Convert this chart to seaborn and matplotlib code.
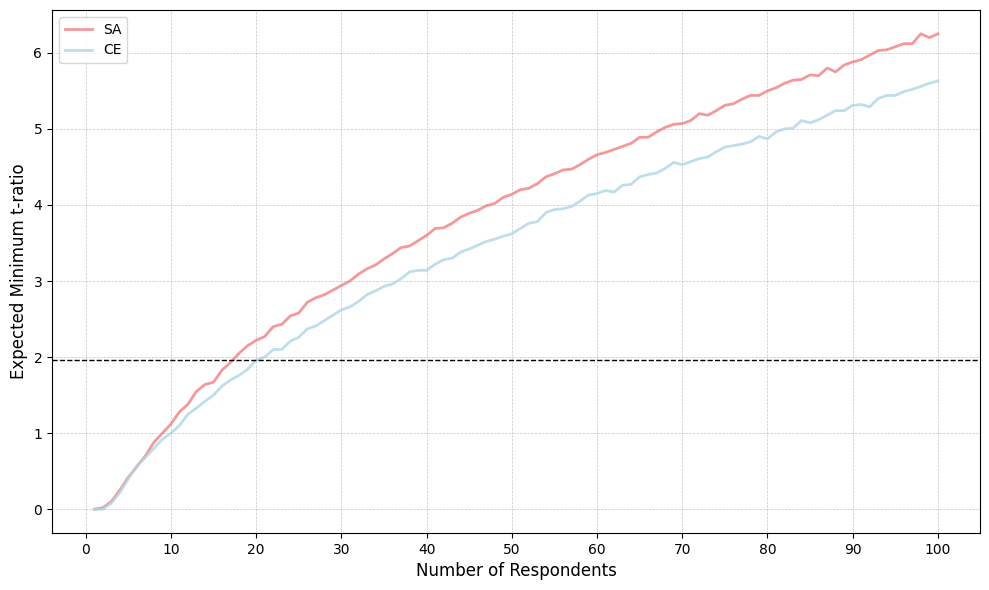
import numpy as np
import pandas as pd
import matplotlib
matplotlib.use("Agg")
import matplotlib.pyplot as plt
import seaborn as sns

respondents = list(range(1, 101))
sa_values = [0.0, 0.02, 0.1, 0.25, 0.42, 0.56, 0.7, 0.88, 1.0, 1.12,
             1.28, 1.38, 1.55, 1.64, 1.67, 1.83, 1.93, 2.05, 2.15, 2.22,
             2.27, 2.4, 2.43, 2.54, 2.58, 2.72, 2.78, 2.82, 2.88, 2.94,
             3.0, 3.09, 3.16, 3.21, 3.29, 3.36, 3.44, 3.46, 3.53, 3.6,
             3.69, 3.7, 3.76, 3.84, 3.89, 3.93, 3.99, 4.02, 4.1, 4.14,
             4.2, 4.22, 4.28, 4.37, 4.41, 4.46, 4.47, 4.53, 4.6, 4.66,
             4.69, 4.73, 4.77, 4.81, 4.89, 4.89, 4.96, 5.02, 5.06, 5.07,
             5.11, 5.2, 5.18, 5.24, 5.31, 5.33, 5.39, 5.44, 5.44, 5.5,
             5.54, 5.6, 5.64, 5.65, 5.71, 5.7, 5.8, 5.75, 5.84, 5.88,
             5.91, 5.97, 6.03, 6.04, 6.08, 6.12, 6.12, 6.25, 6.2, 6.25]
ce_values = [0.0, 0.0, 0.08, 0.22, 0.4, 0.57, 0.68, 0.8, 0.92, 1.0,
             1.1, 1.25, 1.33, 1.42, 1.5, 1.62, 1.7, 1.76, 1.84, 1.96,
             2.0, 2.1, 2.1, 2.21, 2.26, 2.37, 2.41, 2.48, 2.55, 2.62,
             2.66, 2.73, 2.82, 2.87, 2.93, 2.96, 3.03, 3.12, 3.14, 3.14,
             3.22, 3.28, 3.3, 3.38, 3.42, 3.47, 3.52, 3.55, 3.59, 3.62,
             3.69, 3.76, 3.78, 3.9, 3.94, 3.95, 3.98, 4.05, 4.13, 4.15,
             4.19, 4.17, 4.26, 4.27, 4.37, 4.4, 4.42, 4.48, 4.56, 4.53,
             4.57, 4.61, 4.63, 4.7, 4.76, 4.78, 4.8, 4.83, 4.9, 4.87,
             4.96, 5.0, 5.01, 5.11, 5.08, 5.12, 5.18, 5.24, 5.24, 5.31,
             5.32, 5.29, 5.4, 5.44, 5.44, 5.49, 5.52, 5.56, 5.6, 5.63]
threshold = 1.96

df = pd.DataFrame({
    "n": respondents * 2,
    "t": sa_values + ce_values,
    "method": ["SA"] * 100 + ["CE"] * 100,
})

fig, ax = plt.subplots(figsize=(9.89, 5.9), dpi=100)
sns.lineplot(data=df, x="n", y="t", hue="method",
             palette={"SA": "lightcoral", "CE": "lightblue"},
             linewidth=2, alpha=0.8, ax=ax)
ax.axhline(threshold, color="black", linestyle="--", linewidth=1)
ax.set_xticks(range(0, 101, 10))
ax.grid(True, linestyle="--", linewidth=0.5, alpha=0.7)
ax.set_xlabel("Number of Respondents", fontsize=12)
ax.set_ylabel("Expected Minimum t-ratio", fontsize=12)
ax.legend(loc="upper left")
fig.subplots_adjust(left=0.0526, right=0.991, top=0.983, bottom=0.0966)
fig.savefig("out.png", dpi=100)
